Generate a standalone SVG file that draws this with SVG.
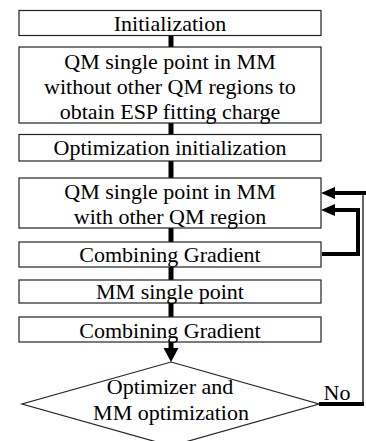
<svg xmlns="http://www.w3.org/2000/svg" width="366" height="441" viewBox="0 0 366 441">
  <style>
    .box { fill: #ffffff; stroke: #222222; stroke-width: 1.2; }
    .lbl { font-family: 'Liberation Serif', 'Times New Roman', serif; font-size: 22px; fill: #000000; text-anchor: middle; }
    .thick { fill: none; stroke: #000000; stroke-width: 5; }
    .loop { fill: none; stroke: #000000; stroke-width: 4; stroke-linejoin: miter; }
    .thin { fill: none; stroke: #000000; stroke-width: 1.2; }
  </style>
  <defs>
    <!-- arrowhead for the feedback loops -->
    <marker id="head" markerUnits="userSpaceOnUse" markerWidth="15" markerHeight="15" refX="0" refY="6" orient="auto">
      <path d="M0,0 L14,6 L0,12 z" fill="#000000"/>
    </marker>
    <!-- wider arrowhead into the decision -->
    <marker id="head-wide" markerUnits="userSpaceOnUse" markerWidth="16" markerHeight="16" refX="0" refY="7.5" orient="auto">
      <path d="M0,0 L14,7.5 L0,15 z" fill="#000000"/>
    </marker>
  </defs>

  <rect width="366" height="441" fill="#ffffff"/>

  <g id="connectors">
    <line class="thick" x1="171" y1="35" x2="171" y2="47"/>
    <line class="thick" x1="171" y1="123" x2="171" y2="135"/>
    <line class="thick" x1="171" y1="161" x2="171" y2="178"/>
    <line class="thick" x1="171" y1="228" x2="171" y2="242"/>
    <line class="thick" x1="171" y1="267" x2="171" y2="280"/>
    <line class="thick" x1="171" y1="303" x2="171" y2="317"/>
    <line class="thick" x1="171" y1="342" x2="171" y2="348" marker-end="url(#head-wide)"/>
    <!-- inner loop: gradient back to QM single point -->
    <path class="loop" d="M322,254 H358 V210 H335" marker-end="url(#head)"/>
    <!-- outer loop: optimizer "No" branch -->
    <path class="loop" d="M319,404 H364"/>
    <line class="thin" x1="363" y1="193" x2="363" y2="405"/>
    <path class="loop" d="M366,193 H335" marker-end="url(#head)"/>
  </g>

  <g id="init">
    <rect class="box" x="19" y="10.5" width="302" height="25"/>
    <text class="lbl" x="170" y="31">Initialization</text>
  </g>

  <g id="qm-esp">
    <rect class="box" x="19" y="47" width="302" height="76"/>
    <text class="lbl" x="170" y="68.5">QM single point in MM</text>
    <text class="lbl" x="170" y="94">without other QM regions to</text>
    <text class="lbl" x="170" y="119">obtain ESP fitting charge</text>
  </g>

  <g id="opt-init">
    <rect class="box" x="19" y="134.5" width="302" height="26.5"/>
    <text class="lbl" x="170" y="155">Optimization initialization</text>
  </g>

  <g id="qm-other">
    <rect class="box" x="19" y="178" width="302" height="50"/>
    <text class="lbl" x="170" y="199">QM single point in MM</text>
    <text class="lbl" x="170" y="224">with other QM region</text>
  </g>

  <g id="grad-1">
    <rect class="box" x="19" y="242" width="302" height="25"/>
    <text class="lbl" x="170" y="262">Combining Gradient</text>
  </g>

  <g id="mm-single">
    <rect class="box" x="19" y="280" width="302" height="23"/>
    <text class="lbl" x="170" y="299">MM single point</text>
  </g>

  <g id="grad-2">
    <rect class="box" x="19" y="317" width="302" height="25"/>
    <text class="lbl" x="170" y="337.5">Combining Gradient</text>
  </g>

  <g id="optimizer">
    <polygon class="box" points="171,362 319,404 171,446 22,404"/>
    <text class="lbl" x="170" y="394">Optimizer and</text>
    <text class="lbl" x="171" y="420">MM optimization</text>
  </g>

  <text class="lbl" x="337" y="400">No</text>
</svg>
